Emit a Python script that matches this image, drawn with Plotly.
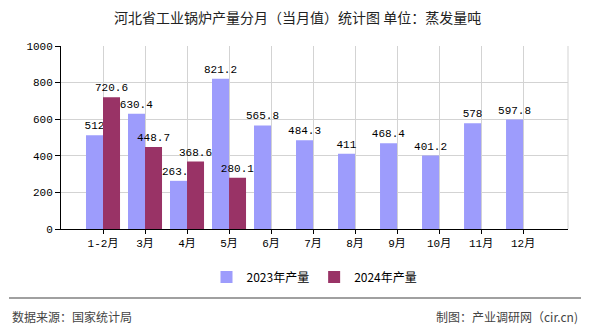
import plotly.graph_objects as go

categories = ["1-2月", "3月", "4月", "5月", "6月", "7月", "8月", "9月", "10月", "11月", "12月"]
values_2023 = [512, 630.4, 263.2, 821.2, 565.8, 484.3, 411, 468.4, 401.2, 578, 597.8]
values_2024 = [720.6, 448.7, 368.6, 280.1, None, None, None, None, None, None, None]
labels_2023 = ["512", "630.4", "263.2", "821.2", "565.8", "484.3", "411", "468.4", "401.2", "578", "597.8"]
labels_2024 = ["720.6", "448.7", "368.6", "280.1", "", "", "", "", "", "", ""]
y_ticks = [0, 200, 400, 600, 800, 1000]

title_text = "河北省工业锅炉产量分月（当月值）统计图 单位：蒸发量吨"
source_text = "数据来源：国家统计局"
credit_text = "制图：产业调研网（cir.cn)"

FONT = "Liberation Mono, Noto Sans CJK SC, monospace"
CJK = "Noto Sans CJK SC, sans-serif"

fig = go.Figure()
fig.add_trace(go.Bar(
    x=categories, y=values_2023, name="2023年产量",
    marker=dict(color="#9D9CFC", line=dict(width=0)),
    text=labels_2023, textposition="outside", cliponaxis=False, constraintext="none",
    textfont=dict(family=FONT, size=11, color="#000000"),
))
fig.add_trace(go.Bar(
    x=categories, y=values_2024, name="2024年产量",
    marker=dict(color="#993366", line=dict(width=0)),
    text=labels_2024, textposition="outside", cliponaxis=False, constraintext="none",
    textfont=dict(family=FONT, size=11, color="#000000"),
))

W, H = 590, 330
L, R, T, B = 61, 22, 46, 101
pw = W - L - R
ph = H - T - B

def px_x(x):
    return (x - L) / pw

def px_y(y):
    return (H - B - y) / ph

fig.update_layout(
    width=W, height=H,
    margin=dict(l=L, r=R, t=T, b=B),
    paper_bgcolor="white", plot_bgcolor="white",
    barmode="group", bargap=0.19, bargroupgap=0,
    showlegend=True,
    uniformtext=dict(mode=False),
    legend=dict(orientation="h", x=0.5, xanchor="center", y=px_y(277), yanchor="middle",
                font=dict(family=CJK, size=12, color="#000000"), itemwidth=30,
                traceorder="normal"),
    font=dict(family=FONT, size=11, color="#000000"),
    xaxis=dict(
        type="category", range=[-1, 11.07],
        showgrid=True, gridcolor="#D3D3D3", gridwidth=1,
        showline=True, linecolor="#000000", linewidth=1,
        ticks="outside", ticklen=4, tickcolor="#000000",
        tickfont=dict(family=FONT, size=11, color="#000000"),
    ),
    yaxis=dict(
        range=[0, 1000], tickvals=y_ticks,
        showgrid=True, gridcolor="#D3D3D3", gridwidth=1,
        showline=True, linecolor="#000000", linewidth=1,
        ticks="outside", ticklen=5, tickcolor="#000000",
        tickfont=dict(family=FONT, size=11, color="#000000"),
        zeroline=False,
    ),
    shapes=[
        dict(type="line", xref="paper", yref="paper", x0=1, x1=1, y0=0, y1=1,
             line=dict(color="#D3D3D3", width=1)),
        dict(type="line", xref="paper", yref="paper", x0=px_x(9), x1=px_x(581),
             y0=px_y(298), y1=px_y(298), line=dict(color="#808080", width=1.5)),
    ],
    annotations=[
        dict(text=title_text, xref="paper", yref="paper", x=px_x(297), y=px_y(17),
             xanchor="center", yanchor="middle", showarrow=False,
             font=dict(family=CJK, size=14, color="#222222")),
        dict(text=source_text, xref="paper", yref="paper", x=px_x(10), y=px_y(316),
             xanchor="left", yanchor="middle", showarrow=False,
             font=dict(family=CJK, size=12, color="#444444")),
        dict(text=credit_text, xref="paper", yref="paper", x=px_x(580), y=px_y(316),
             xanchor="right", yanchor="middle", showarrow=False,
             font=dict(family=CJK, size=12, color="#444444")),
    ],
)

fig.write_html("out.html")
